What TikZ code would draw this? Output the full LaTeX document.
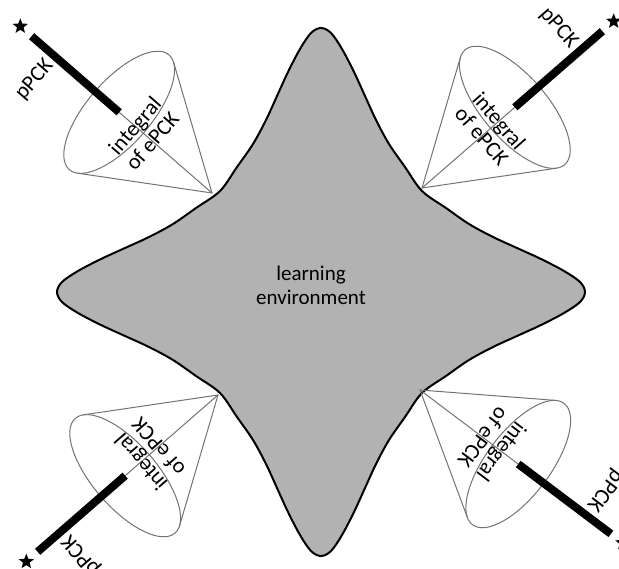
\documentclass[tikz,border=0pt]{standalone}
\usepackage{fontspec}
\setmainfont{Carlito}
\usetikzlibrary{shapes.geometric}

\begin{document}
\begin{tikzpicture}[x=0.5pt, y=0.5pt,
  blob/.style={fill=black!30, draw=black, line width=1pt},
  rimline/.style={draw=black!55, line width=0.5pt},
  pbar/.style={line width=4pt, black},
  lbl/.style={font=\fontsize{11}{11.5}\selectfont, align=center, inner sep=0pt},
  starmark/.style={star, star points=5, star point ratio=2.3, fill=black, inner sep=0pt, minimum size=8pt}]
  \useasboundingbox (0,0) rectangle (619,568);

  % learning environment
  \filldraw[blob, shift={(321,276)}] plot[smooth cycle, tension=0.55] coordinates {
    (-101,101)
    (-84,125) (-68,148) (-55,172) (-44,196) (-33,220) (-21,243) (-10,259) (0,264)
    (10,259) (21,243) (33,220) (44,196) (55,172) (68,148) (84,125)
    (101,101)
    (125,84) (148,68) (172,55) (196,44) (220,33) (243,21) (259,10) (264,0)
    (259,-10) (243,-21) (220,-33) (196,-44) (172,-55) (148,-68) (125,-84)
    (101,-101)
    (84,-125) (68,-148) (55,-172) (44,-196) (33,-220) (21,-243) (10,-259) (0,-264)
    (-10,-259) (-21,-243) (-33,-220) (-44,-196) (-55,-172) (-68,-148) (-84,-125)
    (-101,-101)
    (-125,-84) (-148,-68) (-172,-55) (-196,-44) (-220,-33) (-243,-21) (-259,-10) (-264,0)
    (-259,10) (-243,21) (-220,33) (-196,44) (-172,55) (-148,68) (-125,84)};
  \node[font=\fontsize{10.5}{12}\selectfont, align=center] (env) at (311,283) {learning\\environment};

  % cones
  \foreach \n/\px/\py/\ang in {tl/212/375/139, tr/422/380/41, bl/218/173/221, br/420/178/-37}{
    \begin{scope}[shift={(\px,\py)}, rotate=\ang]
      \coordinate (apex-\n) at (0,0);
      \coordinate (rim-\n) at (123,0);
      \coordinate (tanA-\n) at (114.7,73.4);
      \coordinate (tanB-\n) at (114.7,-73.4);
      \coordinate (end-\n) at (239,0);
      \draw[rimline] (rim-\n) ellipse [x radius=32, y radius=76];
      \draw[rimline] (tanA-\n) -- (apex-\n) -- (tanB-\n);
      \draw[rimline] (apex-\n) -- (rim-\n);
      \draw[pbar] (rim-\n) -- (end-\n);
      \node[starmark] (star-\n) at (254,0) {};
      \node[lbl, rotate=\ang-90] (int-\n) at (91,0) {integral\\of ePCK};
      \node[lbl, rotate=\ang-90] (pp-\n) at (208,31) {pPCK};
    \end{scope}
  }
\end{tikzpicture}
\end{document}
